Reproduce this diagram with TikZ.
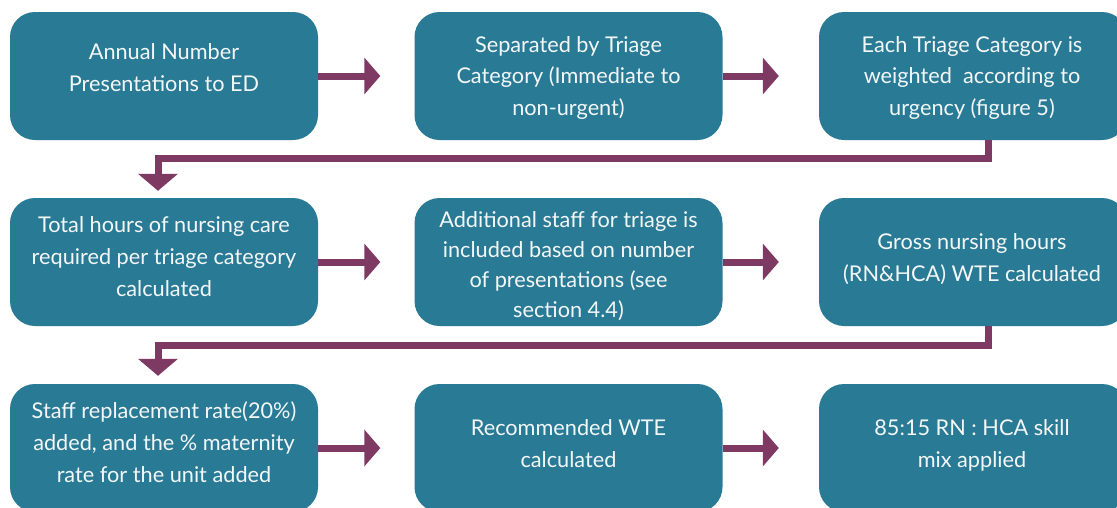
\documentclass[tikz,border=0pt]{standalone}
\usepackage{fontspec}
\setmainfont{Lato}
\usetikzlibrary{arrows.meta}
\definecolor{boxteal}{HTML}{297A95}
\definecolor{arrowplum}{HTML}{7E3A62}
\definecolor{boxtext}{HTML}{F4F7F9}
\begin{document}
\begin{tikzpicture}[x=1pt,y=-1pt,
  box/.style={draw=none,fill=boxteal,rounded corners=25pt,minimum width=308pt,minimum height=128pt,inner sep=0pt},
  txt/.style={text=boxtext,align=center,font=\fontsize{21.7}{31.7}\selectfont,inner sep=0pt,anchor=base},
  flow/.style={draw=arrowplum,line width=7pt,-{Triangle[length=16pt,width=36pt]}},
  elbow/.style={draw=arrowplum,line width=7pt,line join=miter,-{Triangle[length=17pt,width=39pt]}}]
\useasboundingbox (0,0) rectangle (1117,507);
% boxes
\node[box] (b1) at (164,76) {};
\node[box] (b2) at (568.5,76) {};
\node[box] (b3) at (973,76) {};
\node[box] (b4) at (164,262) {};
\node[box] (b5) at (568.5,262) {};
\node[box] (b6) at (973,262) {};
\node[box] (b7) at (164,448) {};
\node[box] (b8) at (568.5,448) {};
\node[box] (b9) at (973,448) {};
% texts (anchored at the baseline of their last line)
\node[txt] (t1) at (164,91) {Annual Number\\Presentations to ED};
\node[txt] (t2) at (568.5,115.5) {Separated by Triage\\Category (Immediate to\\non-urgent)};
\node[txt] (t3) at (972,115.5) {Each Triage Category is\\weighted\ \ according to\\urgency (figure 5)};
\node[txt] (t4) at (164,296) {Total hours of nursing care\\required per triage category\\calculated};
\node[txt,font=\fontsize{21.7}{30}\selectfont] (t5) at (568.5,317) {Additional staff for triage is\\included based on number\\of presentations (see\\section 4.4)};
\node[txt] (t6) at (972,281) {Gross nursing hours\\(RN\&HCA) WTE calculated};
\node[txt] (t7) at (164,482) {Staff replacement rate(20\%)\\added, and the \% maternity\\rate for the unit added};
\node[txt] (t8) at (568.5,467) {Recommended WTE\\calculated};
\node[txt] (t9) at (972,467) {85:15 RN : HCA skill\\mix applied};
% horizontal arrows
\draw[flow] (b1.east) -- ([xshift=-34pt]b2.west);
\draw[flow] (b2.east) -- ([xshift=-40pt]b3.west);
\draw[flow] (b4.east) -- ([xshift=-34pt]b5.west);
\draw[flow] (b5.east) -- ([xshift=-40pt]b6.west);
\draw[flow] (b7.east) -- ([xshift=-34pt]b8.west);
\draw[flow] (b8.east) -- ([xshift=-40pt]b9.west);
% elbow arrows
\draw[elbow] ([xshift=15pt]b3.south) -- ++(0,18.5) -| ([xshift=-6pt,yshift=7pt]b4.north);
\draw[elbow] ([xshift=15pt]b6.south) -- ++(0,19) -| ([xshift=-6pt,yshift=8pt]b7.north);
\end{tikzpicture}
\end{document}
